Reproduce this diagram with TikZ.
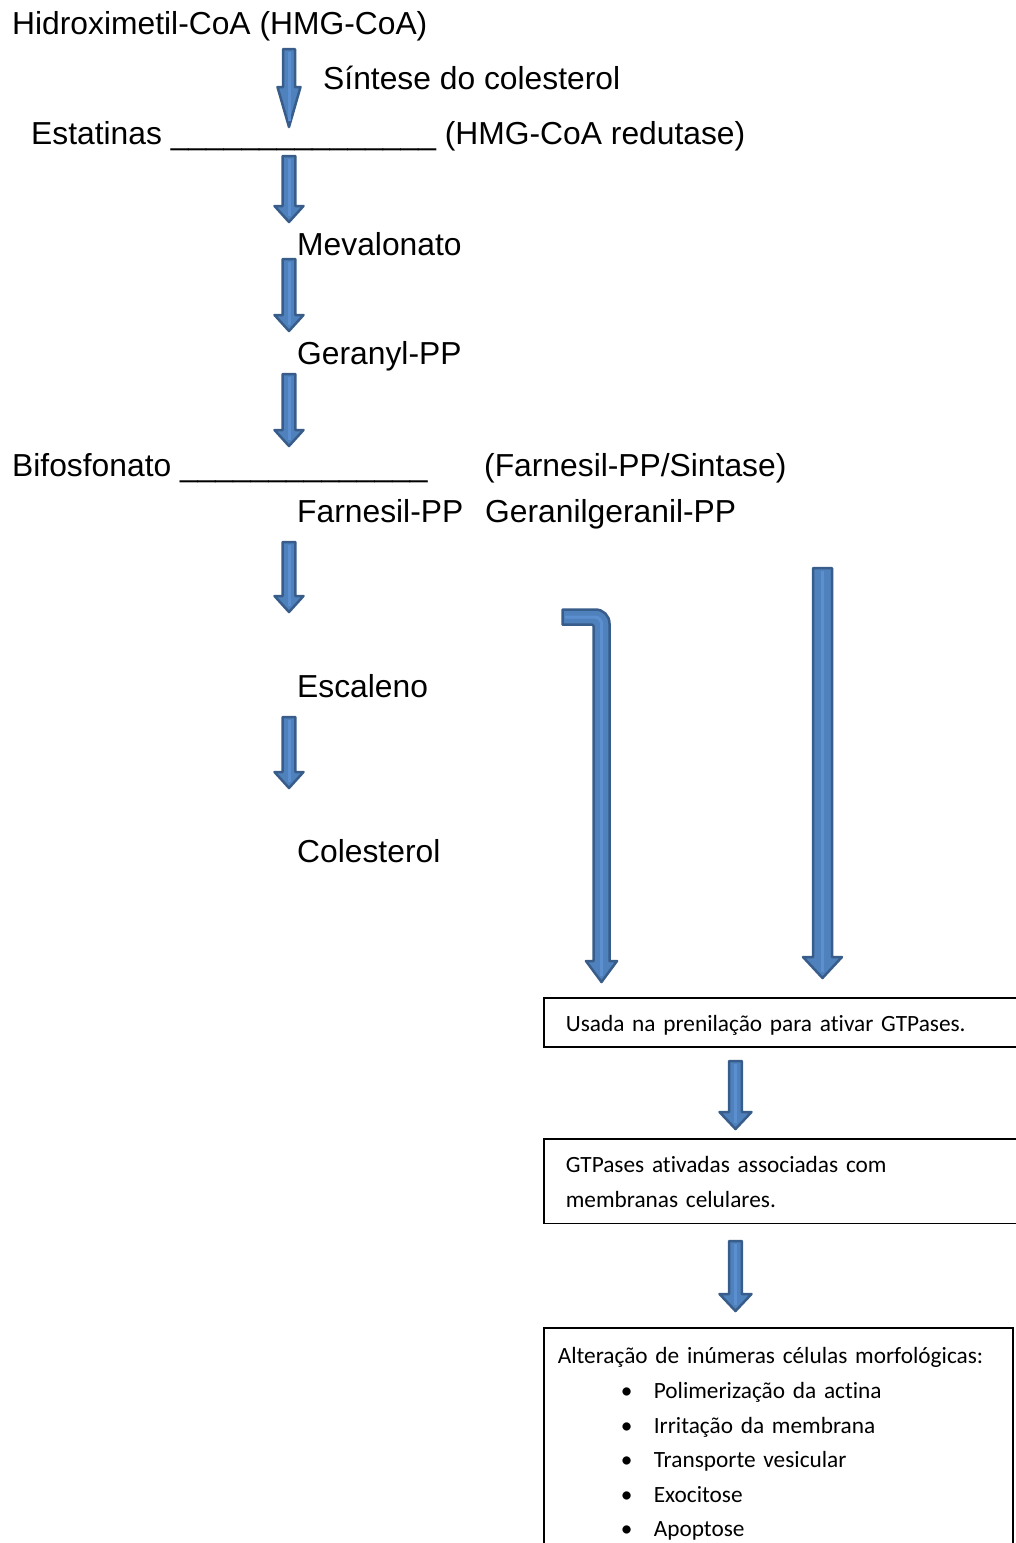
\documentclass[tikz,border=0pt]{standalone}
\usepackage{fontspec}
\setmainfont{Liberation Sans}
\newfontfamily\boxfont[Ligatures=NoCommon]{Carlito}
\usetikzlibrary{calc,positioning}
\definecolor{arrowfill}{HTML}{4F81BD}
\definecolor{arrowline}{HTML}{385D8A}
\definecolor{arrowlight}{HTML}{5C8FCF}

% from, to, half shaft, half head, head length
\newcommand{\blockdown}[5]{%
  \filldraw[blockarrow] let \p1=(#1), \p2=(#2) in
    (\x1-#3,\y1) -- (\x1+#3,\y1) -- (\x1+#3,\y2+#5) -- (\x1+#4,\y2+#5)
    -- (\x1,\y2) -- (\x1-#4,\y2+#5) -- (\x1-#3,\y2+#5) -- cycle;
  \draw[arrowlight,line width=3pt] let \p1=(#1), \p2=(#2) in
    (\x1,\y1-3pt) -- (\x1,\y2+6pt);
}
\newcommand{\bul}{\hspace*{63pt}\makebox[33pt][l]{\textbullet}}

\begin{document}
\begin{tikzpicture}[x=1pt,y=-1pt,
  every node/.style={inner sep=0pt,anchor=base west},
  pathlabel/.style={font=\fontsize{31.8}{38}\selectfont},
  blockarrow/.style={fill=arrowfill,draw=arrowline,line width=2.5pt,line join=round},
  infobox/.style={draw,line width=1.6pt,anchor=north west,align=left,inner ysep=0pt,
    font=\boxfont\fontsize{23.3}{34.6}\selectfont}
  ]
\useasboundingbox (0,0) rectangle (1016,1543);

\node[pathlabel] (hmg) at (12,34) {Hidroximetil-CoA (HMG-CoA)};
\node[pathlabel] (sintese) at (323,89) {Síntese do colesterol};
\node[pathlabel] (estatina) at (31,144) {Estatinas \_\_\_\_\_\_\_\_\_\_\_\_\_\_\_ (HMG-CoA redutase)};
\node[pathlabel] (meva) at (297,255) {Mevalonato};
\node[pathlabel] (geranyl) at (297,364) {Geranyl-PP};
\node[pathlabel] (bifos) at (12,476) {Bifosfonato \_\_\_\_\_\_\_\_\_\_\_\_\_\_};
\node[pathlabel] (sintase) at (484,476) {(Farnesil-PP/Sintase)};
\node[pathlabel] (farnesil) at (297,522) {Farnesil-PP};
\node[pathlabel] (ggpp) at (485,522) {Geranilgeranil-PP};
\node[pathlabel] (escaleno) at (297,697) {Escaleno};
\node[pathlabel] (colest) at (297,862) {Colesterol};

\node[infobox,inner xsep=22pt,text width=453pt] (prenil) at (543,997)
  {\rule[-15pt]{0pt}{49pt}Usada na prenilação para ativar GTPases.};
\node[infobox,inner xsep=22pt,text width=453pt] (gtpase) at (543,1138)
  {\rule{0pt}{34pt}GTPases ativadas associadas com\\
   membranas celulares.\rule[-16pt]{0pt}{16pt}};
\node[infobox,inner xsep=14pt,text width=441pt] (morfo) at (543,1327)
  {\rule{0pt}{36pt}Alteração de inúmeras células morfológicas:\\
   \bul Polimerização da actina\\
   \bul Irritação da membrana\\
   \bul Transporte vesicular\\
   \bul Exocitose\\
   \bul Apoptose\rule[-20pt]{0pt}{20pt}};

\coordinate (s1) at (289,49);   \coordinate (t1) at (289,127);
\coordinate (s2) at (289,156);  \coordinate (t2) at (289,222);
\coordinate (s3) at (289,259);  \coordinate (t3) at (289,331);
\coordinate (s4) at (289,374);  \coordinate (t4) at (289,446);
\coordinate (s5) at (289,542);  \coordinate (t5) at (289,612);
\coordinate (s6) at (289,717);  \coordinate (t6) at (289,788);
\coordinate (s7) at (822.5,568); \coordinate (t7) at (822.5,978);
\coordinate (s8) at (735.5,1061); \coordinate (t8) at (735.5,1129);
\coordinate (s9) at (735.5,1241); \coordinate (t9) at (735.5,1311);

\blockdown{s1}{t1}{6pt}{11.5pt}{40pt}
\blockdown{s2}{t2}{6.3pt}{14.5pt}{16pt}
\blockdown{s3}{t3}{6.3pt}{14.5pt}{16pt}
\blockdown{s4}{t4}{6.3pt}{14.5pt}{16pt}
\blockdown{s5}{t5}{6.3pt}{14.5pt}{16pt}
\blockdown{s6}{t6}{6.3pt}{14.5pt}{16pt}
\blockdown{s7}{t7}{9.5pt}{19.5pt}{21pt}
\blockdown{s8}{t8}{6.3pt}{16pt}{17pt}
\blockdown{s9}{t9}{6.3pt}{16pt}{17pt}

\coordinate (b1) at (562.5,609.5);
\coordinate (b2) at (601.5,982);
\filldraw[blockarrow] (b1) -- (595.5,609.5) to[out=0,in=90] (609.5,623.5)
  -- (609.5,961) -- (617,961) -- (b2) -- (586,961) -- (593.5,961)
  -- (593.5,626) to[out=90,in=0] (591,624.5) -- (562.5,624.5) -- cycle;
\draw[arrowlight,line width=3pt] (565,617) -- (595,617) to[out=0,in=90] (601.5,624)
  -- (601.5,976);
\end{tikzpicture}
\end{document}
